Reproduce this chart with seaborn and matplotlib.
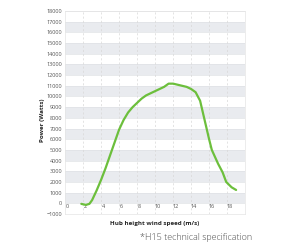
import seaborn as sns
import matplotlib.pyplot as plt
import matplotlib.transforms as mtransforms
import pandas as pd

# power curve
wind_speed = [1.8, 2.3, 2.7, 3.0, 3.5, 4.0, 4.5, 5.0, 5.5, 6.0, 6.5, 7.0, 7.5, 8.0,
              8.5, 9.0, 9.5, 10.0, 10.5, 11.0, 11.5, 12.0, 12.5, 13.0, 13.5, 14.0,
              14.5, 15.0, 15.5, 16.0, 16.3, 17.0, 17.5, 17.9, 18.5, 19.0]
power = [-50, -150, -50, 300, 1200, 2200, 3300, 4500, 5700, 6900, 7800, 8500, 9000,
         9400, 9800, 10100, 10300, 10500, 10700, 10900, 11200, 11200, 11100, 11000,
         10900, 10700, 10400, 9600, 7800, 6000, 5000, 3700, 2900, 2000, 1500, 1250]

y_ticks = list(range(-1000, 18001, 1000))
x_ticks = list(range(0, 19, 2))

df = pd.DataFrame({"wind": wind_speed, "power": power})

sns.set_style("white")
plt.rcParams["font.family"] = ["Open Sans", "DejaVu Sans"]

fig = plt.figure(figsize=(3, 2.5), dpi=100)
ax = fig.add_axes([0.217, 0.144, 0.6, 0.812])

# alternating grey bands
for lo in range(0, 17000, 2000):
    ax.axhspan(lo, lo + 1000, color="#e9ebef", zorder=0, lw=0)
for y in y_ticks:
    ax.axhline(y, color="#dfe1e5", lw=0.5, zorder=0.5)
for x in range(2, 21, 2):
    ax.axvline(x, color="#d8d8d8", lw=0.5, ls=(0, (3, 3)), zorder=0.5)

sns.lineplot(data=df, x="wind", y="power", color="#6cbf3c", lw=1.6, ax=ax)

ax.set_xlim(0, 20)
ax.set_ylim(-1000, 18000)
ax.set_xticks(x_ticks)
ax.set_yticks(y_ticks)
ax.tick_params(labelsize=4, colors="#555555", length=0, pad=2)
# x tick labels sit inside the bottom band, a little right of the grid lines
ax.tick_params(axis="x", pad=-7)
shift = mtransforms.ScaledTranslation(2.5 / 100, 0, fig.dpi_scale_trans)
for lab in ax.get_xticklabels():
    lab.set_transform(lab.get_transform() + shift)
for s in ax.spines.values():
    s.set_color("#e4e4e4")
    s.set_linewidth(0.5)

ax.set_xlabel("Hub height wind speed (m/s)", fontsize=4.5, fontweight="bold", labelpad=5)
ax.set_ylabel("Power (Watts)", fontsize=4.5, fontweight="bold")
ax.yaxis.set_label_coords(-0.11, 0.46)

fig.text(0.84, 0.048, "*H15 technical specification", fontsize=6.5, color="#4a4a4a",
         ha="right", va="center", fontweight="light")

fig.savefig("out.png", dpi=100)
